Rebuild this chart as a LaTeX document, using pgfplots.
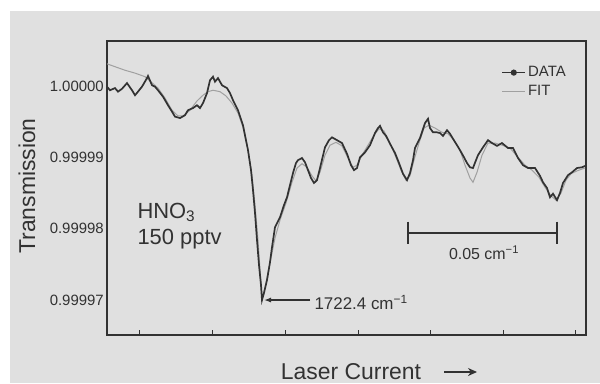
\documentclass[border=0pt]{standalone}
\usepackage{pgfplots}
\pgfplotsset{compat=1.18}
\usepackage{fontspec}
\setmainfont{Liberation Sans}
\usetikzlibrary{arrows.meta}
\definecolor{bg}{RGB}{224,224,224}
\definecolor{ink}{RGB}{50,50,50}
\definecolor{fitc}{RGB}{160,160,160}

\pgfplotstableread{
x y
107 -0.01
110 -0.06
115 -0.03
118 -0.08
122 -0.04
127 0.04
132 -0.06
135 -0.13
138 -0.08
142 -0.01
147 0.11
148 0.14
152 0.01
155 -0.01
158 -0.06
163 -0.15
168 -0.27
172 -0.36
175 -0.43
180 -0.45
185 -0.41
188 -0.34
193 -0.31
197 -0.27
200 -0.31
203 -0.24
207 -0.10
210 0.08
213 0.13
215 0.06
218 0.11
222 0.01
227 -0.03
230 -0.10
233 -0.20
238 -0.34
243 -0.55
248 -0.90
251 -1.18
253 -1.46
255 -1.78
257 -2.16
259 -2.51
261 -2.79
262 -3.00
264 -2.90
267 -2.72
270 -2.47
272 -2.26
275 -1.98
280 -1.84
284 -1.67
287 -1.56
290 -1.39
293 -1.22
296 -1.08
298 -1.04
302 -1.01
305 -1.07
308 -1.18
311 -1.29
314 -1.36
317 -1.32
320 -1.15
325 -0.86
329 -0.76
332 -0.72
337 -0.76
342 -0.80
347 -0.95
351 -1.11
354 -1.18
357 -1.15
360 -1.00
365 -0.93
370 -0.83
375 -0.66
378 -0.59
380 -0.56
383 -0.65
386 -0.70
390 -0.81
395 -0.94
399 -1.08
403 -1.23
407 -1.32
410 -1.22
413 -1.04
415 -0.87
420 -0.73
425 -0.52
428 -0.46
430 -0.59
433 -0.65
437 -0.65
440 -0.66
443 -0.70
447 -0.62
450 -0.67
453 -0.74
457 -0.83
460 -0.90
464 -1.00
467 -1.08
470 -1.14
473 -1.15
476 -1.04
478 -0.97
483 -0.86
488 -0.76
492 -0.80
497 -0.84
502 -0.80
508 -0.87
513 -0.87
518 -1.01
523 -1.11
528 -1.15
535 -1.15
540 -1.26
543 -1.35
547 -1.43
550 -1.56
553 -1.51
557 -1.60
560 -1.50
563 -1.36
568 -1.25
572 -1.21
577 -1.15
582 -1.14
585 -1.12
}\datatab

\pgfplotstableread{
x y
107 0.31
115 0.27
125 0.22
135 0.18
145 0.13
150 0.07
158 -0.03
165 -0.17
172 -0.34
178 -0.42
183 -0.42
190 -0.34
197 -0.21
203 -0.13
208 -0.08
213 -0.06
220 -0.08
226 -0.14
232 -0.24
238 -0.38
243 -0.58
248 -0.90
252 -1.25
255 -1.67
258 -2.16
260 -2.58
262 -2.97
264 -2.89
267 -2.69
271 -2.41
275 -2.13
280 -1.88
286 -1.64
292 -1.35
297 -1.15
302 -1.09
307 -1.14
312 -1.26
316 -1.33
320 -1.21
325 -0.97
330 -0.83
336 -0.79
342 -0.84
348 -1.01
353 -1.14
357 -1.11
362 -0.97
368 -0.83
374 -0.69
379 -0.60
384 -0.63
390 -0.80
396 -1.00
401 -1.18
406 -1.32
410 -1.26
414 -1.04
419 -0.80
424 -0.59
429 -0.55
435 -0.59
442 -0.65
448 -0.67
454 -0.76
460 -0.90
465 -1.11
470 -1.29
473 -1.35
477 -1.21
482 -0.97
488 -0.80
495 -0.80
502 -0.83
510 -0.87
518 -1.00
525 -1.11
532 -1.18
539 -1.28
545 -1.42
551 -1.54
556 -1.60
561 -1.50
566 -1.32
571 -1.23
577 -1.19
585 -1.15
}\fittab

\begin{document}
\begin{tikzpicture}
\fill[white] (0,0) rectangle (600bp,383bp);
\fill[bg] (10bp,0) rectangle (600bp,372bp);
\begin{axis}[
  at={(107bp,48bp)}, anchor=south west,
  scale only axis, width=479bp, height=294bp,
  xmin=107, xmax=586, ymin=-3.49, ymax=0.63,
  axis line style={ink, line width=1.8bp},
  xtick={139,212,285,358,430,503,575}, xticklabels={},
  xtick pos=lower, ytick pos=left,
  tick align=inside, major tick length=5bp,
  tick style={ink, line width=1bp},
  ytick={0,-1,-2,-3},
  yticklabels={1.00000,0.99999,0.99998,0.99997},
  y tick style={draw=none},
  yticklabel style={font=\fontsize{15}{15}\selectfont, text=ink, inner sep=1bp, xshift=-2bp},
  legend style={draw=none, fill=none, at={(0.823,0.92)}, anchor=north west,
    font=\fontsize{15}{16}\selectfont, text=ink, row sep=3bp, inner sep=0pt},
  legend cell align=left,
]
\addplot[fitc, line width=1bp, forget plot] table {\fittab};
\addplot[ink, line width=1.7bp,
  legend image code/.code={\draw[ink,line width=1.7bp] (0bp,0bp) -- (23bp,0bp); \fill[ink] (11.5bp,0bp) circle (2.2bp);}] table {\datatab};
\addlegendentry{DATA}
\addlegendimage{fitc, line width=1.2bp, legend image code/.code={\draw[fitc,line width=1.2bp] (0bp,0bp) -- (23bp,0bp);}}
\addlegendentry{FIT}
\draw[ink, line width=1bp] (axis cs:107,0) -- (axis cs:104,0);
\draw[ink, line width=1bp] (axis cs:107,-1) -- (axis cs:104,-1);
\draw[ink, line width=1bp] (axis cs:107,-2) -- (axis cs:104,-2);
\draw[ink, line width=1bp] (axis cs:107,-3) -- (axis cs:104,-3);
\node[anchor=west, font=\fontsize{22}{24}\selectfont, text=ink] at (axis cs:134,-1.77) {HNO\textsubscript{3}};
\node[anchor=west, font=\fontsize{22}{24}\selectfont, text=ink] at (axis cs:134,-2.14) {150 pptv};
\draw[ink, line width=1.5bp] (axis cs:408,-2.06) -- (axis cs:557,-2.06);
\draw[ink, line width=1.5bp] (axis cs:408,-1.90) -- (axis cs:408,-2.22);
\draw[ink, line width=1.5bp] (axis cs:557,-1.90) -- (axis cs:557,-2.22);
\node[font=\fontsize{16}{16}\selectfont, text=ink] at (axis cs:484,-2.34) {0.05 cm\textsuperscript{−1}};
\draw[ink, line width=1.2bp, -{Latex[length=7bp,width=5bp]}] (axis cs:310,-3.0) -- (axis cs:264,-3.0);
\node[anchor=west, font=\fontsize{17}{17}\selectfont, text=ink] at (axis cs:311,-3.03) {1722.4 cm\textsuperscript{−1}};
\end{axis}
\node[rotate=90, font=\fontsize{23}{25}\selectfont, text=ink] at (27bp,197bp) {Transmission};
\node[font=\fontsize{23}{25}\selectfont, text=ink] at (351bp,11bp) {Laser Current};
\draw[ink, line width=2bp, -{Stealth[length=9bp,width=8bp]}] (444bp,11bp) -- (477bp,11bp);
\end{tikzpicture}
\end{document}
